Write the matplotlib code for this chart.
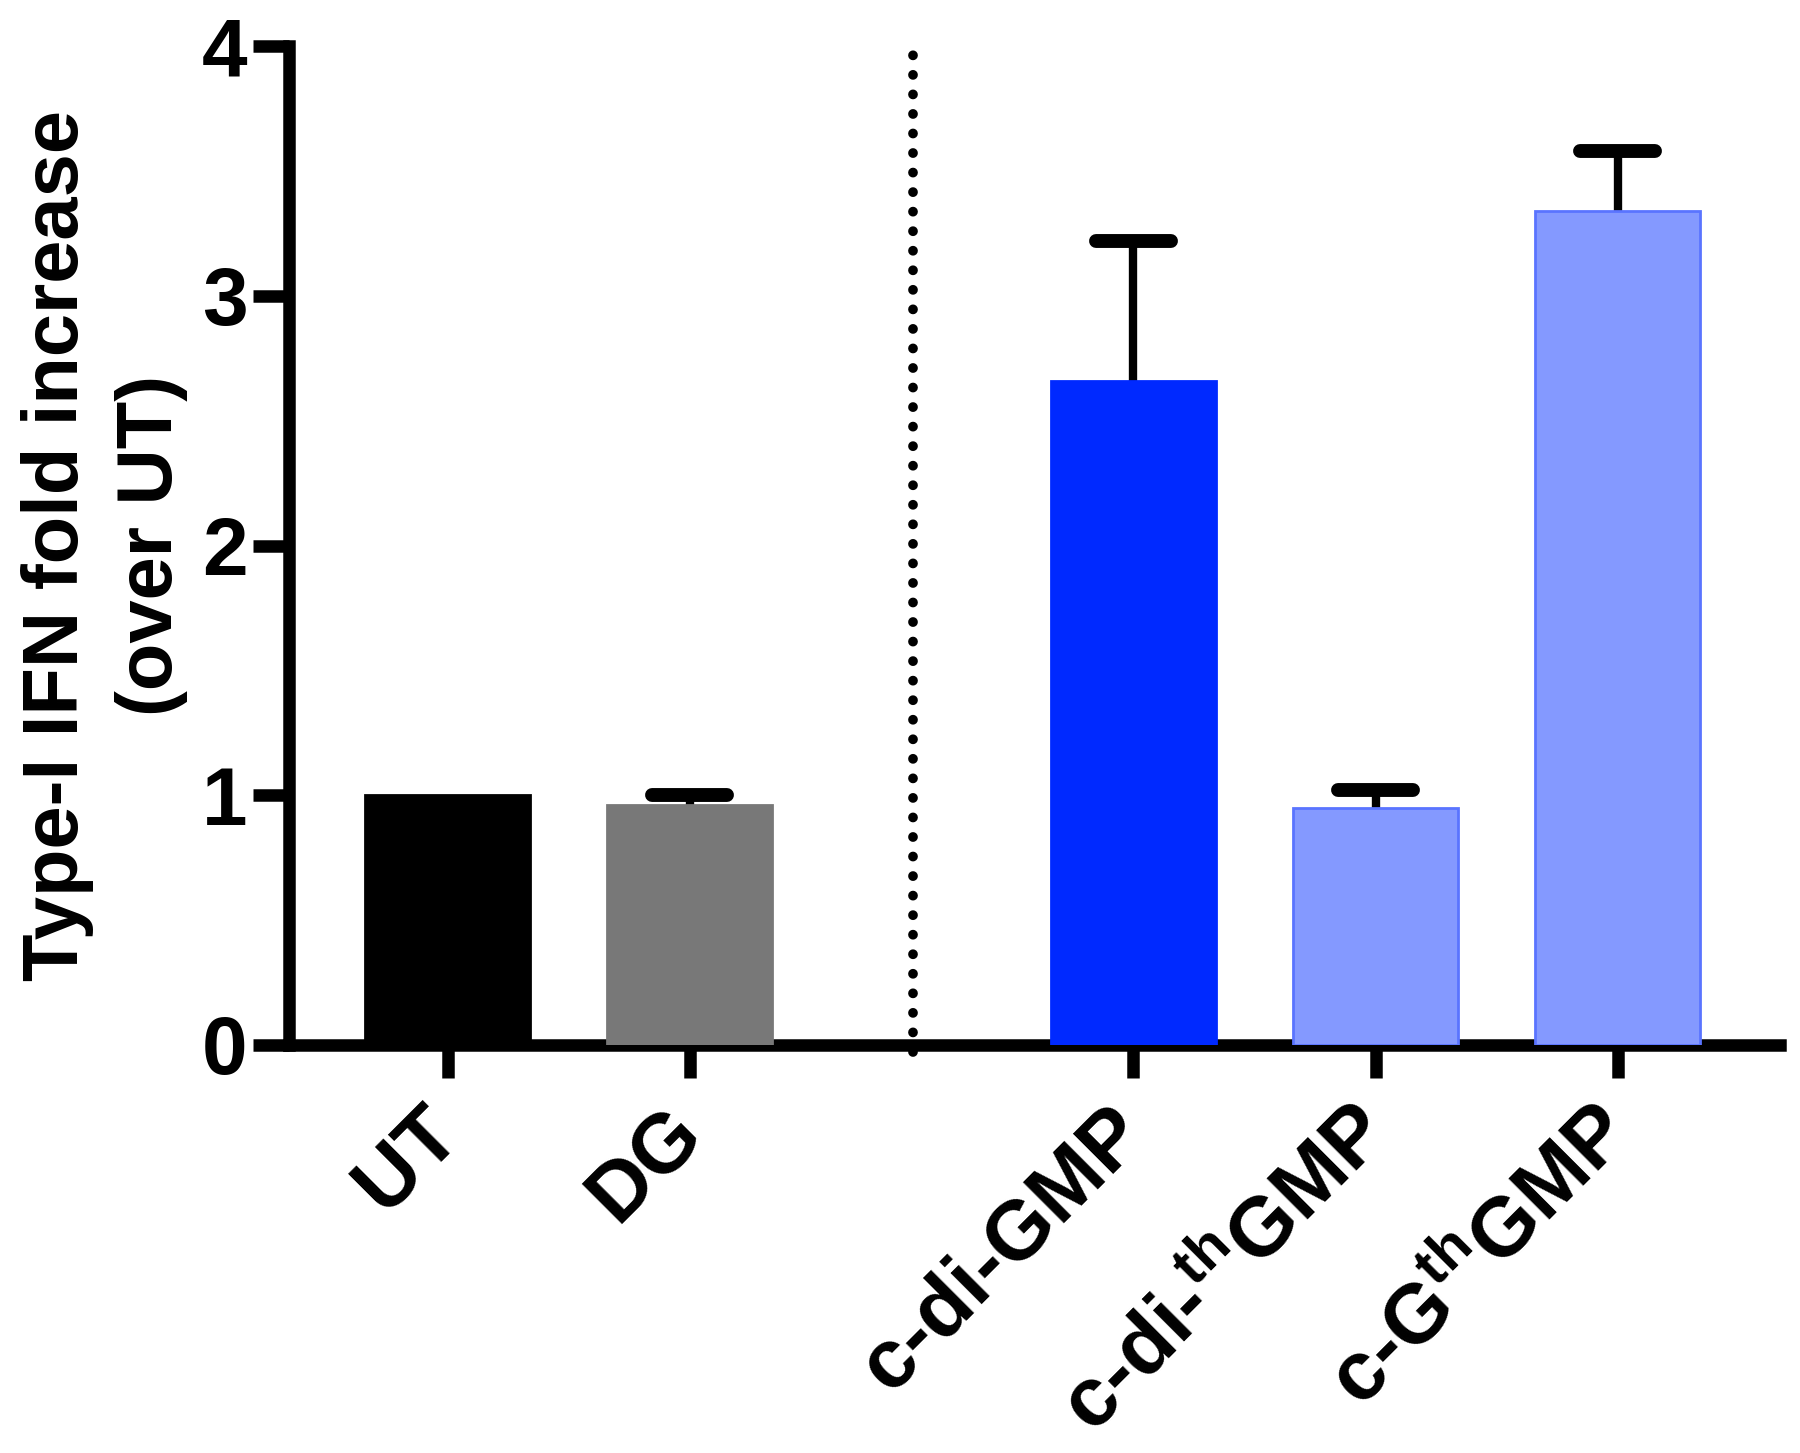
import matplotlib
matplotlib.use('Agg')
import matplotlib.pyplot as plt
import numpy as np

plt.rcParams['font.family'] = ['Liberation Sans', 'DejaVu Sans']
plt.rcParams['font.weight'] = 'bold'
plt.rcParams['mathtext.fontset'] = 'custom'
plt.rcParams['mathtext.rm'] = 'Liberation Sans:bold'
plt.rcParams['mathtext.bf'] = 'Liberation Sans:bold'

# data
labels = ['UT', 'DG', 'c-di-GMP', r'c-di-$^{\mathrm{th}}$GMP', r'c-G$^{\mathrm{th}}$GMP']
values = [1.00, 0.96, 2.66, 0.95, 3.34]
errors = [0.0, 0.04, 0.56, 0.07, 0.24]
positions = [0, 1, 2.83, 3.83, 4.83]
colors = ['#000000', '#787878', '#0029FF', '#8499FF', '#8499FF']
edges = ['#000000', '#787878', '#0029FF', '#5A74FF', '#5A74FF']
divider_x = 1.92

fig = plt.figure(figsize=(18, 14.53), dpi=100)
ax = fig.add_axes([0.1606, 0.2808, 0.8284, 0.6875])

ax.bar(positions, values, width=0.68, color=colors, edgecolor=edges, linewidth=2, zorder=3)

# upward-only error bars
x = np.array(positions)
v = np.array(values)
e = np.array(errors)
m = e > 0
ax.vlines(x[m], v[m], v[m] + e[m], color='black', linewidth=6, zorder=2, capstyle='round')
ax.hlines(v[m] + e[m], x[m] - 0.155, x[m] + 0.155, color='black', linewidth=10, zorder=2, capstyle='round')

# dotted separator between controls and compounds
ax.plot([divider_x, divider_x], [-0.03, 3.99], color='black', linestyle=(0, (0.01, 2.0)),
        dash_capstyle='round', linewidth=7, clip_on=False, zorder=1)

ax.set_xlim(-0.654, 5.50)
ax.set_ylim(0, 4)
ax.set_yticks([0, 1, 2, 3, 4])
ax.set_xticks(positions)
ax.set_xticklabels(labels, rotation=45, ha='right', va='center', rotation_mode='anchor',
                   fontsize=60, fontweight='bold')
ax.tick_params(axis='y', labelsize=59, width=9, length=26, pad=4)
ax.tick_params(axis='x', width=9, length=24, pad=30)
for lab in ax.get_yticklabels():
    lab.set_fontweight('bold')

for s in ['top', 'right']:
    ax.spines[s].set_visible(False)
for s in ['left', 'bottom']:
    ax.spines[s].set_linewidth(9)

ax.set_ylabel('Type-I IFN fold increase\n(over UT)', fontsize=56, fontweight='bold',
              linespacing=1.36, labelpad=10)

fig.savefig('out.png', dpi=100)
